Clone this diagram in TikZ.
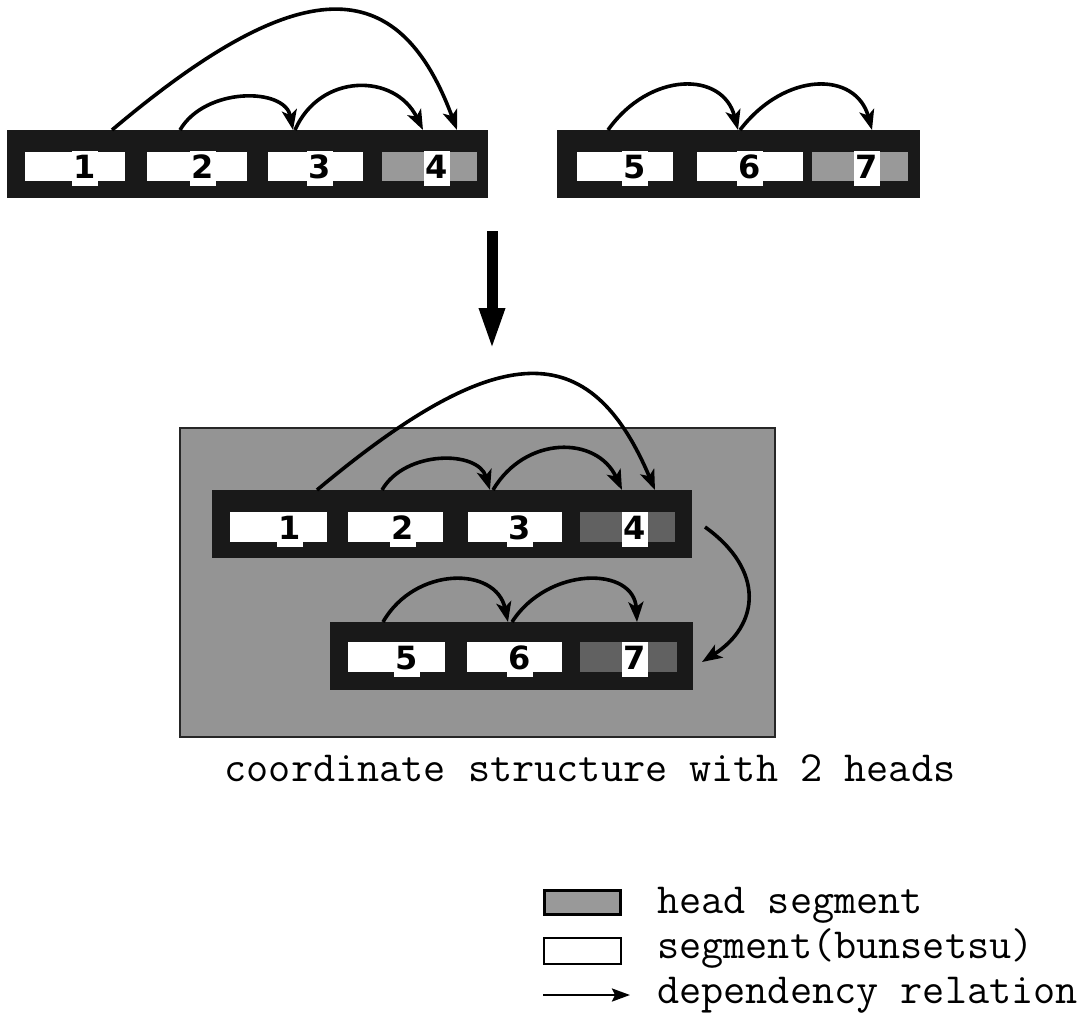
\documentclass[tikz,border=0pt]{standalone}
\usepackage{fontspec}
\newfontfamily\numfont{DejaVu Sans}
\usetikzlibrary{arrows.meta}
\begin{document}
\begin{tikzpicture}[x=1pt,y=-1pt,
  bar/.style={draw=none,fill=black!90,inner sep=0pt},
  wcell/.style={draw=none,fill=white,inner sep=0pt},
  hcell/.style={draw=none,fill=black!40,inner sep=0pt},
  hcelldark/.style={draw=none,fill=black!62,inner sep=0pt},
  num/.style={fill=white,inner xsep=1.5pt,inner ysep=0pt,text height=27pt,text depth=8pt,anchor=base,
    font=\numfont\bfseries\fontsize{32}{32}\selectfont},
  panel/.style={draw=black!85,line width=2pt,fill=black!42,inner sep=0pt},
  dep/.style={line width=3.6pt,-{Stealth[length=20pt,width=15pt,inset=5pt]}},
  lbl/.style={font=\ttfamily\fontsize{43}{46}\selectfont,inner sep=0pt}
]
\useasboundingbox (0,0) rectangle (1089,1014);

% ---------- top row, left group ----------
\node[bar,minimum width=481,minimum height=68] (bar1) at (247.5,164) {};
\node[wcell,minimum width=100,minimum height=29] (c1) at (75,166.5) {};
\node[wcell,minimum width=100,minimum height=29] (c2) at (197,166.5) {};
\node[wcell,minimum width=95,minimum height=29] (c3) at (315.5,166.5) {};
\node[hcell,minimum width=95,minimum height=29] (c4) at (429.5,166.5) {};
\node[num] (n1) at (85,178) {1};
\node[num] (n2) at (203,178) {2};
\node[num] (n3) at (320,178) {3};
\node[num] (n4) at (437,178) {4};

% ---------- top row, right group ----------
\node[bar,minimum width=363,minimum height=68] (bar2) at (738.5,164) {};
\node[wcell,minimum width=96,minimum height=29] (c5) at (625,166.5) {};
\node[wcell,minimum width=106,minimum height=29] (c6) at (750,166.5) {};
\node[hcell,minimum width=96,minimum height=29] (c7) at (860,166.5) {};
\node[num] (n5) at (635,178) {5};
\node[num] (n6) at (750,178) {6};
\node[num] (n7) at (867,178) {7};

% attachment points on the top bars
\coordinate (t1a) at (112,130);
\coordinate (t2a) at (180,130);
\coordinate (t3a) at (293,130);
\coordinate (t3b) at (295,130);
\coordinate (t4a) at (423,130);
\coordinate (t4b) at (457,130);
\coordinate (t5a) at (608,130);
\coordinate (t6a) at (738,130);
\coordinate (t6b) at (740,130);
\coordinate (t7a) at (872,130);

\draw[dep] (t1a) .. controls (300,-29) and (398,-29) .. (t4b);
\draw[dep] (t2a) .. controls (205,87) and (285,87) .. (t3a);
\draw[dep] (t3b) .. controls (320,72.7) and (395,72.7) .. (t4a);
\draw[dep] (t5a) .. controls (650,71) and (723,71) .. (t6a);
\draw[dep] (t6b) .. controls (785,71) and (856,71) .. (t7a);

% ---------- big down arrow ----------
\coordinate (dtop) at (492,231);
\coordinate (dbot) at (492,351);
\draw[line width=11pt,-{Triangle[length=43pt,width=23pt]}] (dtop) -- (dbot);

% ---------- coordinate structure ----------
\node[panel,minimum width=595,minimum height=309] (panel) at (477.5,582.5) {};

\node[bar,minimum width=480,minimum height=68] (bar3) at (452,524) {};
\node[wcell,minimum width=97,minimum height=30] (d1) at (278.5,527) {};
\node[wcell,minimum width=95,minimum height=30] (d2) at (395.5,527) {};
\node[wcell,minimum width=94,minimum height=30] (d3) at (515,527) {};
\node[hcelldark,minimum width=95,minimum height=30] (d4) at (627.5,527) {};
\node[num] (m1) at (290,539) {1};
\node[num] (m2) at (403,539) {2};
\node[num] (m3) at (520,539) {3};
\node[num] (m4) at (635,539) {4};

\node[bar,minimum width=363,minimum height=68] (bar4) at (511.5,656) {};
\node[wcell,minimum width=97,minimum height=30] (d5) at (396.5,657) {};
\node[wcell,minimum width=95,minimum height=30] (d6) at (514.5,657) {};
\node[hcelldark,minimum width=97,minimum height=30] (d7) at (628.5,657) {};
\node[num] (m5) at (407,669) {5};
\node[num] (m6) at (520,669) {6};
\node[num] (m7) at (635,669) {7};

\coordinate (b1a) at (317,490);
\coordinate (b2a) at (382,490);
\coordinate (b3a) at (490,490);
\coordinate (b3b) at (493,490);
\coordinate (b4a) at (622,490);
\coordinate (b4b) at (655,490);
\coordinate (b4r) at (705,527);
\coordinate (b5a) at (383,622);
\coordinate (b6a) at (508,622);
\coordinate (b6b) at (512,622);
\coordinate (b7a) at (637,622);
\coordinate (b7r) at (702,662);

\draw[dep] (b1a) .. controls (500,336.7) and (590,336.7) .. (b4b);
\draw[dep] (b2a) .. controls (405,450) and (478,450) .. (b3a);
\draw[dep] (b3b) .. controls (525,435.3) and (597,435.3) .. (b4a);
\draw[dep] (b5a) .. controls (415,566) and (496,566) .. (b6a);
\draw[dep] (b6b) .. controls (548,566) and (634,566) .. (b7a);
\draw[dep] (b4r) .. controls (765,570) and (760,625) .. (b7r);

\node[lbl,anchor=base] (cap) at (590,781) {coordinate structure with 2 heads};

% ---------- legend ----------
\node[draw=black,line width=3pt,fill=black!40,minimum width=76,minimum height=24,inner sep=0pt] (lg1) at (582.5,902.5) {};
\node[draw=black,line width=2pt,fill=white,minimum width=77,minimum height=26,inner sep=0pt] (lg2) at (582.5,951) {};
\coordinate (la) at (543,995);
\coordinate (lb) at (630,995);
\draw[line width=2.4pt,-{Stealth[length=18pt,width=13pt,inset=3pt]}] (la) -- (lb);
\node[lbl,anchor=base west] (lt1) at (657,913) {head segment};
\node[lbl,anchor=base west] (lt2) at (657,958) {segment(bunsetsu)};
\node[lbl,anchor=base west] (lt3) at (657,1003) {dependency relation};
\end{tikzpicture}
\end{document}
